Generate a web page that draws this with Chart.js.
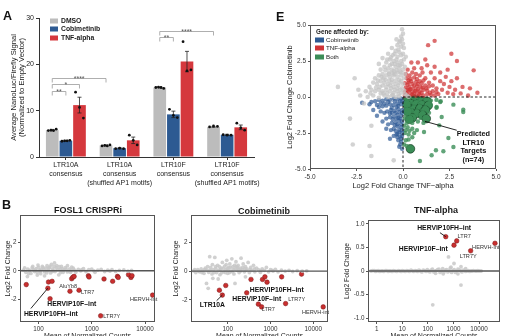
<!DOCTYPE html>
<html>
<head>
<meta charset="utf-8">
<script src="https://cdn.jsdelivr.net/npm/chart.js@4.4.1/dist/chart.umd.min.js"></script>
<style>
  html, body { margin: 0; padding: 0; background: #fff; width: 509px; height: 336px; overflow: hidden; position: relative;
    font-family: "Liberation Sans", Arial, sans-serif; color: #1a1a1a; }
  canvas { position: absolute; }
  .t { position: absolute; white-space: nowrap; line-height: 1; }
  .panel { font-weight: bold; font-size: 12.5px; color: #111; }
  .ttl { font-weight: bold; font-size: 9px; transform: translate(-50%, -50%); }
  .key { position: absolute; width: 8px; height: 5px; transform: translateY(-50%); }
  .kl { transform: translateY(-50%); }
</style>
</head>
<body>
<canvas id="chartA" width="262" height="192" style="left:0;top:0"></canvas>
<canvas id="chartE" width="249" height="196" style="left:260px;top:0"></canvas>
<canvas id="chartB1" width="170" height="148" style="left:0;top:195px"></canvas>
<canvas id="chartB2" width="170" height="148" style="left:170px;top:195px"></canvas>
<canvas id="chartB3" width="169" height="148" style="left:340px;top:195px"></canvas>

<div class="t panel" style="left:3px;top:10.4px">A</div>
<div class="t panel" style="left:276px;top:11px">E</div>
<div class="t panel" style="left:2px;top:198.5px">B</div>

<!-- legende A -->
<div class="key" style="left:50px;top:20.7px;background:#bcbcbc"></div>
<div class="key" style="left:50px;top:29.2px;background:#2d5a92"></div>
<div class="key" style="left:50px;top:37.5px;background:#d5383d"></div>
<div class="t kl" style="left:61px;top:20.7px;font-weight:bold;font-size:6.8px">DMSO</div>
<div class="t kl" style="left:61px;top:29.2px;font-weight:bold;font-size:6.8px">Cobimetinib</div>
<div class="t kl" style="left:61px;top:37.5px;font-weight:bold;font-size:6.8px">TNF-alpha</div>

<!-- legende E -->
<div class="t kl" style="left:316px;top:31.7px;font-weight:bold;font-size:6.3px">Gene affected by:</div>
<div class="key" style="left:315px;top:40.2px;width:9px;background:#2d5a92"></div>
<div class="key" style="left:315px;top:48.4px;width:9px;background:#cf3436"></div>
<div class="key" style="left:315px;top:56.6px;width:9px;background:#3b8d57"></div>
<div class="t kl" style="left:326px;top:40.2px;font-size:6.2px">Cobimetinib</div>
<div class="t kl" style="left:326px;top:48.4px;font-size:6.2px">TNF-alpha</div>
<div class="t kl" style="left:326px;top:56.6px;font-size:6.2px">Both</div>

<!-- titres B -->
<div class="t ttl" style="left:88px;top:210px">FOSL1 CRISPRi</div>
<div class="t ttl" style="left:264px;top:211px">Cobimetinib</div>
<div class="t ttl" style="left:436px;top:210px">TNF-alpha</div>

<script>
const FONT = '"Liberation Sans", Arial, sans-serif';
Chart.defaults.font.family = FONT;
Chart.defaults.color = '#222';

// ---------- Panel A : rapporteur NanoLuc ----------
const constructs = [
  ['LTR10A', 'consensus'],
  ['LTR10A', 'consensus', '(shuffled AP1 motifs)'],
  ['LTR10F', 'consensus'],
  ['LTR10F', 'consensus', '(shuffled AP1 motifs)'],
];
const dmsoMean = [5.8, 2.5, 15.0, 6.5];
const cobiMean = [3.5, 1.9, 9.2, 4.8];
const tnfMean = [11.2, 3.6, 20.6, 6.4];
const dmsoErr = [0.15, 0.1, 0.1, 0.1];
const cobiErr = [0.1, 0.1, 0.7, 0.1];
const tnfErr = [1.7, 0.7, 2.2, 0.5];
const dmsoReps = [[5.7, 5.8, 5.7, 6.0], [2.4, 2.5, 2.4, 2.6], [15.0, 15.1, 15.0, 14.8], [6.5, 6.7, 6.6]];
const cobiReps = [[3.4, 3.5, 3.5, 3.6], [1.8, 1.9, 1.8], [10.3, 9.0, 8.5], [4.8, 4.7, 4.7]];
const tnfReps = [[14.0, 10.7, 8.4], [4.7, 3.6, 2.6], [24.9, 18.6, 18.8], [7.3, 6.3, 5.8]];
const yTicksA = [0, 10, 20, 30];
// [groupe, série]
const sigLinks = [
  { from: [0, 0], to: [0, 1], y: 14.3, text: '**' },
  { from: [0, 0], to: [0, 2], y: 15.8, text: '*' },
  { from: [0, 0], to: [1, 0], y: 17.1, text: '****' },
  { from: [2, 0], to: [2, 1], y: 25.9, text: '**' },
  { from: [2, 0], to: [3, 0], y: 27.3, text: '****' },
];

// ---------- Panel E : log2FC TNF vs Cobimetinib ----------
const eNeither = [
  [-0.05, 4.7], [0.0, 4.4], [-0.1, 4.2], [-0.15, 3.9], [0.0, 3.7], [-0.3, 3.6], [-0.1, 3.5], [0.05, 3.4],
  [-0.4, 3.2], [-0.2, 3.1], [0.0, 3.0], [-0.55, 2.9], [-0.3, 2.8], [-0.1, 2.9], [-0.8, 3.0],
  [-0.7, 2.6], [-0.5, 2.5], [-0.3, 2.4], [-0.1, 2.5], [0.05, 2.6], [-0.9, 2.4], [-1.1, 2.7], [-0.6, 2.3],
  [-1.0, 2.1], [-0.8, 2.0], [-0.6, 1.9], [-0.4, 2.1], [-0.2, 2.0], [0.0, 1.9], [-1.2, 1.9], [-0.5, 1.8], [-0.3, 1.7], [0.1, 2.1],
  [-1.3, 1.5], [-1.1, 1.6], [-0.9, 1.5], [-0.7, 1.4], [-0.5, 1.5], [-0.3, 1.4], [-0.1, 1.5], [0.05, 1.3], [-1.5, 1.3], [-0.6, 1.2], [-0.2, 1.2],
  [-1.6, 1.0], [-1.4, 0.9], [-1.2, 1.1], [-1.0, 1.0], [-0.8, 0.9], [-0.6, 1.0], [-0.4, 0.9], [-0.2, 1.0], [0.0, 0.9], [-0.9, 0.7], [-0.5, 0.7], [-0.3, 0.6], [-1.8, 0.7],
  [-2.0, 0.4], [-1.7, 0.5], [-1.5, 0.4], [-1.3, 0.5], [-1.1, 0.4], [-0.9, 0.5], [-0.7, 0.4], [-0.5, 0.3], [-0.3, 0.4], [-0.1, 0.3], [0.1, 0.2], [0.2, 0.1],
  [-2.3, 0.1], [-1.9, 0.0], [-1.6, 0.1], [-1.3, -0.05], [-1.0, 0.1], [-0.8, 0.0], [-0.6, 0.1], [-0.4, 0.0], [-0.2, 0.05], [0.3, 0.02],
  [-0.15, 2.2], [-0.45, 1.6], [-0.25, 0.8], [-0.65, 0.6], [-0.05, 0.6], [-0.35, 2.6], [-0.75, 1.7], [-1.05, 1.3], [-0.15, 1.75],
  [-0.05, 4.0], [-0.2, 3.8], [-0.25, 3.3], [-0.45, 3.0], [-0.65, 2.75], [-0.85, 2.6], [-0.45, 2.3], [-0.25, 2.2], [-0.05, 2.3],
  [-0.7, 2.2], [-0.95, 1.85], [-0.75, 1.6], [-0.55, 1.65], [-0.35, 1.85], [-0.1, 1.7], [-1.15, 1.4], [-0.95, 1.2], [-0.75, 1.15],
  [-0.4, 1.15], [-0.1, 1.1], [-1.35, 1.15], [-1.1, 0.8], [-0.7, 0.8], [-0.45, 0.5], [-0.15, 0.5], [-1.25, 0.7], [-1.45, 0.65],
  [-1.05, 0.25], [-0.85, 0.25], [-0.55, 0.15], [-0.25, 0.2], [-1.2, 0.25], [-1.75, 0.25], [0.05, 0.45], [0.1, 1.6], [0.15, 2.8],
  [-0.6, 3.4], [-0.35, 4.0], [-1.3, 2.3], [-2.4, 0.5],
  [-3.5, 0.7], [-2.6, 1.3], [-2.85, -1.5], [-1.7, -2.0], [-2.7, -3.3], [-1.8, -3.4], [-1.7, -4.1], [-0.5, -4.4], [-2.1, -0.45],
];
const eCobi = [
  [-0.1, -0.1], [-0.3, -0.15], [-0.5, -0.1], [-0.7, -0.2], [-0.9, -0.15], [-1.1, -0.25], [-1.3, -0.2], [-1.5, -0.3], [-1.7, -0.35],
  [-0.1, -0.5], [-0.3, -0.45], [-0.5, -0.55], [-0.7, -0.5], [-0.9, -0.6], [-1.1, -0.65], [-1.3, -0.7],
  [-0.05, -0.9], [-0.25, -0.85], [-0.45, -0.95], [-0.65, -0.9], [-0.85, -1.0], [-1.0, -1.1],
  [-0.1, -1.3], [-0.3, -1.25], [-0.5, -1.35], [-0.7, -1.4], [-0.9, -1.5],
  [-0.05, -1.7], [-0.2, -1.65], [-0.4, -1.75], [-0.6, -1.8], [-0.8, -1.9],
  [-0.1, -2.1], [-0.3, -2.05], [-0.5, -2.2], [-0.65, -2.3],
  [-0.05, -2.5], [-0.2, -2.45], [-0.35, -2.6], [-0.5, -2.7],
  [-0.1, -2.9], [-0.25, -3.0], [-0.15, -3.3], [-0.05, -3.6],
  [-0.15, -0.3], [-0.35, -0.7], [-0.2, -1.05], [-0.6, -1.1], [-0.15, -1.5], [-0.35, -1.5], [-0.3, -1.9], [-0.2, -2.3],
  [-0.4, -2.35], [-0.15, -2.75], [-0.3, -2.8],
  [-0.05, -0.3], [-0.25, -0.6], [-0.45, -0.3], [-0.6, -0.75], [-0.8, -0.35], [-1.0, -0.45], [-0.4, -1.1], [-0.05, -1.1],
  [-0.55, -1.55], [-0.7, -1.15], [-0.25, -1.45], [-0.45, -1.95], [-0.1, -1.9], [-0.05, -2.3], [-0.3, -2.55], [-0.1, -3.1],
  [-1.2, -0.45], [-1.4, -0.55], [-0.05, -2.7], [-0.2, -3.45],
  [-1.4, -1.3], [-1.1, -1.7], [-0.9, -2.2], [-2.2, -0.4], [-1.8, -0.5], [-1.6, -0.9], [-1.2, -1.0], [-0.7, -2.9],
];
const eTnf = [
  [0.1, 0.1], [0.3, 0.1], [0.5, 0.15], [0.7, 0.1], [0.9, 0.15], [1.1, 0.1], [1.3, 0.2], [1.5, 0.15], [1.7, 0.1], [1.9, 0.2],
  [0.1, 0.35], [0.3, 0.4], [0.5, 0.35], [0.7, 0.45], [0.9, 0.4], [1.1, 0.5], [1.3, 0.45], [1.6, 0.4],
  [0.15, 0.65], [0.35, 0.7], [0.55, 0.6], [0.75, 0.75], [0.95, 0.7], [1.2, 0.8],
  [0.1, 0.95], [0.3, 1.0], [0.5, 0.9], [0.7, 1.05], [0.9, 1.1],
  [0.2, 1.3], [0.4, 1.25], [0.6, 1.35], [0.15, 1.6], [0.5, 1.7],
  [0.2, 0.25], [0.4, 0.55], [0.6, 0.25], [0.8, 0.55], [1.0, 0.3], [0.25, 0.85], [0.45, 1.1], [0.8, 0.9],
  [0.2, 0.5], [0.45, 0.2], [0.65, 0.4], [0.85, 0.25], [1.05, 0.65], [1.25, 0.6], [1.45, 0.3], [0.35, 0.5], [0.6, 0.8],
  [1.0, 0.95], [1.4, 0.75], [0.3, 1.15], [0.75, 1.25], [1.1, 1.15], [0.35, 1.5], [0.7, 1.6], [1.05, 1.7], [1.8, 0.35],
  [2.0, 1.1], [1.7, 1.3], [2.5, 0.7], [2.8, 0.5], [0.25, 1.9], [0.45, 2.4], [1.2, 2.6],
  [0.9, 1.5], [1.2, 1.3], [1.4, 1.0], [1.6, 0.8], [1.8, 0.6], [2.1, 0.5], [2.4, 0.3], [2.7, 0.2], [3.1, 0.25], [3.5, 0.1],
  [1.0, 2.0], [1.3, 2.2], [0.8, 2.4], [1.7, 2.1], [2.0, 1.7], [2.3, 1.4], [2.6, 1.1], [2.9, 1.3], [2.4, 1.9], [2.9, 2.5],
  [3.8, 1.85], [2.6, 3.0], [1.7, 3.9], [1.35, 3.6], [0.6, 2.0], [1.5, 1.7], [3.2, 0.7], [2.2, 0.9], [3.6, 0.6], [4.0, 0.3],
];
const eBoth = [
  [0.1, -0.1], [0.3, -0.15], [0.6, -0.1], [0.9, -0.2], [1.2, -0.15], [1.5, -0.25], [1.8, -0.2], [2.0, -0.35],
  [0.1, -0.5], [0.3, -0.6], [0.6, -0.55], [0.9, -0.6], [1.2, -0.7], [1.5, -0.55], [1.8, -0.75],
  [0.05, -1.0], [0.25, -1.1], [0.5, -1.0], [0.8, -1.2], [1.1, -1.15], [1.4, -1.1],
  [0.1, -1.5], [0.3, -1.6], [0.55, -1.5], [0.8, -1.7], [1.1, -1.8],
  [0.05, -2.0], [0.25, -2.1], [0.5, -2.2], [0.75, -2.3],
  [0.1, -2.5], [0.3, -2.6], [0.5, -2.8], [0.15, -3.0], [0.05, -3.3],
  [0.2, -0.3], [0.45, -0.35], [0.75, -0.35], [1.05, -0.4], [1.35, -0.45], [0.15, -0.75], [0.45, -0.8], [0.75, -0.95],
  [1.05, -0.95], [1.3, -0.85], [0.15, -1.25], [0.4, -1.3], [0.65, -1.3], [0.95, -1.45], [0.2, -1.8], [0.5, -1.8],
  [0.15, -2.3], [0.35, -2.35], [0.3, -2.95], [0.6, -2.5],
  [2.03, -0.3], [2.71, -0.53], [3.24, -1.04], [3.24, -0.88], [1.42, -0.39], [1.81, -0.69], [2.08, -1.39], [1.95, -1.97],
  [1.13, -2.43], [2.44, -2.85], [2.71, -3.47], [1.77, -3.7], [0.91, -4.44], [1.54, -4.05], [2.17, -3.77], [0.2, -3.4],
];
const eTargets = [
  [0.3, -0.2], [0.55, -0.15], [0.8, -0.2], [1.05, -0.25], [1.3, -0.3], [0.4, -0.45], [0.7, -0.5], [1.0, -0.55],
  [1.35, -0.6], [0.35, -0.75], [0.6, -0.85], [0.9, -0.8], [1.2, -0.9], [0.45, -1.1], [0.75, -1.15], [1.05, -1.25],
  [0.5, -1.45], [1.25, -1.5], [0.35, -1.55], [0.4, -3.6], [0.2, -0.5], [0.25, -1.0],
];
const eTicks = [-5, -2.5, 0, 2.5, 5];
const eNotes = [
  { text: 'Predicted', x: 3.78, y: -2.57, kind: 'call' },
  { text: 'LTR10', x: 3.78, y: -3.17, kind: 'call' },
  { text: 'Targets', x: 3.78, y: -3.75, kind: 'call' },
  { text: '(n=74)', x: 3.78, y: -4.37, kind: 'call' },
];
const eLeader = [{ x1: 1.18, y1: -1.69, x2: 2.89, y2: -2.31 }];

// ---------- Panel B : MA plots des familles de TE ----------
const fosl1Other = [
  [52, 0.05], [58, -0.1], [63, 0.12], [68, 0.02], [72, -0.18], [76, 0.2], [80, 0.08], [85, -0.05], [90, 0.15], [95, -0.12],
  [100, 0.25], [105, 0.05], [110, -0.2], [118, 0.3], [125, 0.1], [130, -0.08], [138, 0.18], [145, 0.35], [150, 0.0], [160, 0.22],
  [168, -0.15], [175, 0.45], [185, 0.12], [195, 0.3], [205, -0.05], [215, 0.2], [230, 0.08], [245, 0.28], [260, -0.12], [280, 0.15],
  [300, 0.05], [320, 0.22], [350, -0.08], [380, 0.12], [410, 0.02], [450, 0.18], [500, -0.1], [560, 0.1], [620, 0.0], [700, 0.15],
  [780, -0.05], [880, 0.08], [1000, 0.12], [1150, -0.1], [1300, 0.05], [1500, 0.1], [1750, -0.05], [2000, 0.04], [2400, 0.08],
  [2800, -0.04], [3300, 0.03], [4000, 0.06], [4800, -0.03], [5600, 0.02], [62, -0.4], [95, -0.3], [130, -0.35], [200, 0.55],
  [240, -0.28], [350, 0.35], [112, 0.1], [155, 0.15], [180, -0.05], [270, 0.3], [420, 0.25],
  [55, 0.2], [65, -0.2], [78, 0.3], [88, 0.05], [98, 0.4], [108, -0.05], [122, 0.22], [142, -0.15], [165, 0.3], [190, 0.0],
  [220, 0.35], [255, 0.1], [290, -0.1], [330, 0.1], [400, -0.1], [470, 0.05], [650, 0.08], [1100, 0.0], [2200, -0.02],
];
const fosl1Hits = [
  [59, -0.96], [154, -0.78], [180, -0.73], [150, -1.21], [165, -1.94], [420, -0.55], [440, -0.45], [467, -0.39],
  [390, -1.42], [577, -1.35], [866, -0.34], [890, -0.43], [1700, -0.57], [2470, -0.73], [3040, -0.39], [3140, -0.46],
  [4900, -0.27], [5450, -0.46], [5700, -0.34], [1470, -3.13], [13900, -1.69],
];
const fosl1Notes = [
  { text: 'AluYb8', x: 361, y: -1.1, kind: 'minor' },
  { text: 'LTR7', x: 838, y: -1.5, kind: 'minor' },
  { text: 'HERVIP10F\u2013int', x: 423, y: -2.33, kind: 'hit' },
  { text: 'HERVIP10FH\u2013int', x: 171, y: -3.01, kind: 'hit' },
  { text: 'LTR7Y', x: 2380, y: -3.17, kind: 'minor' },
  { text: 'HERVH-int', x: 9400, y: -1.99, kind: 'minor' },
];
const fosl1Leader = [{ x1: 150, y1: -1.21, x2: 72, y2: -2.62 }];

const cobiOther = [
  [16, 0.02], [18, -0.1], [20, 0.1], [22, -0.05], [24, 0.15], [26, 0.0], [28, -0.15], [30, 0.2], [33, 0.05], [36, -0.08],
  [38, 1.0], [40, 0.25], [43, -0.2], [46, 0.1], [50, 0.95], [52, 0.3], [55, -0.1], [58, 0.4], [62, 0.05], [66, -0.25],
  [70, 0.2], [75, 0.6], [80, -0.05], [85, 0.35], [90, 0.1], [95, 0.75], [100, -0.15], [106, 0.25], [112, 0.5], [118, 0.0],
  [125, 0.85], [132, 0.3], [140, -0.2], [148, 0.15], [156, 0.65], [165, 0.05], [175, 0.4], [185, -0.1], [195, 0.2], [205, 0.9],
  [215, 0.1], [230, 0.5], [245, -0.05], [260, 0.3], [280, 0.15], [300, 0.6], [320, -0.1], [345, 0.25], [370, 0.05], [400, 0.4],
  [430, -0.05], [470, 0.2], [520, 0.1], [580, -0.08], [640, 0.15], [720, 0.05], [800, 0.25], [900, -0.05], [1000, 0.1],
  [1150, 0.0], [1300, 0.12], [1500, -0.05], [1800, 0.06], [2200, 0.0], [2700, 0.05], [3300, -0.03], [4200, 0.03], [5500, 0.0],
  [7000, 0.02], [35, -1.2], [32, -0.86], [148, -0.86], [60, -0.55], [45, -0.5], [260, -0.4], [68, 0.1], [88, -0.1], [135, 0.1],
  [170, 0.25], [110, -0.1], [250, 0.15],
  [17, 0.1], [21, 0.0], [25, -0.1], [29, 0.1], [34, 0.3], [39, 0.05], [44, 0.45], [48, -0.1], [53, 0.15], [64, 0.3],
  [72, -0.12], [78, 0.2], [92, 0.45], [98, 0.2], [103, 0.05], [115, 0.25], [128, -0.05], [145, 0.4], [160, 0.3], [180, 0.1],
  [200, 0.0], [225, 0.25], [270, 0.05], [330, 0.1], [420, 0.15], [600, 0.05], [1100, 0.05],
];
const cobiHits = [
  [64, -1.33], [75, -1.67], [90, -1.0], [278, -1.51], [350, -0.58], [520, -2.3], [620, -2.49], [650, -0.58],
  [740, -0.4], [830, -0.77], [1820, -0.4], [2250, -2.26], [5300, -0.21], [17000, -2.49],
];
const cobiNotes = [
  { text: 'HERVIP10FH\u2013int', x: 1400, y: -1.32, kind: 'hit' },
  { text: 'HERVIP10F\u2013int', x: 476, y: -1.97, kind: 'hit' },
  { text: 'LTR7Y', x: 4090, y: -1.97, kind: 'minor' },
  { text: 'LTR10A', x: 44, y: -2.36, kind: 'hit' },
  { text: 'LTR7', x: 890, y: -2.66, kind: 'minor' },
  { text: 'HERVH-int', x: 11250, y: -2.87, kind: 'minor' },
];
const cobiLeader = [{ x1: 75, y1: -1.67, x2: 55, y2: -2.06 }];

const tnfOther = [
  [0.6, 0.0], [0.8, 0.01], [1.0, 0.0], [1.3, -0.01], [1.7, 0.0], [2.2, 0.01], [2.8, -0.01], [3.5, 0.0], [4.5, 0.01], [6, -0.01],
  [8, 0.0], [10, 0.01], [13, -0.01], [17, 0.0], [22, 0.02], [28, -0.01], [36, 0.0], [45, 0.02], [58, -0.02], [75, 0.01],
  [95, 0.03], [120, -0.02], [150, 0.04], [190, 0.0], [240, 0.03], [300, -0.03], [380, 0.05], [480, 0.02], [600, -0.02],
  [750, 0.06], [950, 0.01], [1200, -0.03], [1500, 0.04], [1900, 0.0], [2400, 0.02], [3000, -0.01], [3800, 0.01], [4800, 0.0],
  [6000, 0.01], [8000, 0.0], [10000, 0.0], [200, -0.05], [400, -0.06], [800, 0.08], [1500, -0.06], [3000, 0.05],
  [0.7, 0.01], [0.9, -0.01], [1.15, 0.01], [1.5, 0.0], [1.9, -0.01], [2.5, 0.01], [3.1, 0.0], [4, -0.01], [5.2, 0.0],
  [7, 0.01], [9, -0.01], [11.5, 0.0], [15, 0.01], [19, -0.01], [25, 0.0], [32, 0.01], [40, -0.01], [50, 0.0], [66, 0.02],
  [85, -0.01], [105, 0.0], [135, 0.02], [170, -0.02], [215, 0.01], [270, 0.04], [340, 0.0], [430, -0.02], [540, 0.03],
  [680, 0.0], [850, -0.03], [1070, 0.03], [1350, 0.0], [1700, 0.02], [2150, -0.02], [2700, 0.01], [3400, 0.0], [4300, -0.01],
  [5400, 0.0], [7000, 0.0], [9000, 0.01], [12000, 0.0],
  [640, 0.3], [1050, 0.16], [1970, 0.09], [1970, -0.3], [155, -0.72],
];
const tnfHits = [[500, 0.73], [1340, 0.64], [1050, 0.55], [4700, 0.43], [42000, 0.59]];
const tnfNotes = [
  { text: 'HERVIP10FH\u2013int', x: 433, y: 0.91, kind: 'hit' },
  { text: 'LTR7', x: 2620, y: 0.73, kind: 'minor' },
  { text: 'HERVIP10F\u2013int', x: 66, y: 0.47, kind: 'hit' },
  { text: 'HERVH-int', x: 18300, y: 0.5, kind: 'minor' },
  { text: 'LTR7Y', x: 3780, y: 0.3, kind: 'minor' },
];
const tnfLeader = [{ x1: 297, y1: 0.815, x2: 500, y2: 0.73 }];

const countTicksB = [100, 1000, 10000];
const countTicksTnf = [1, 10, 100, 1000, 10000];
const lfcTicksB = [-2, 0, 2];
const lfcTicksTnf = [-1, -0.5, 0, 0.5, 1];

// ---------- outils ----------
const NOTE_STYLE = {
  hit: { font: `bold 6.8px ${FONT}`, color: '#111' },
  minor: { font: `5.6px ${FONT}`, color: '#333' },
  call: { font: `bold 7.3px ${FONT}`, color: '#111' },
};
const pts = arr => arr.map(([x, y]) => ({ x, y }));

// zone de tracé fixée au pixel près
function frame(W, H, a) {
  return {
    padding: { left: 0, top: a.top, right: W - a.right, bottom: 0 },
    fitX: s => { s.height = H - a.bottom; s.paddingLeft = 0; s.paddingRight = 0; },
    fitY: s => { s.width = a.left; s.paddingTop = 0; s.paddingBottom = 0; },
  };
}

function overlay(o) {
  return {
    id: 'overlay',
    afterDatasetsDraw(chart) {
      const { ctx, chartArea: a, scales: { x, y } } = chart;
      ctx.save();
      if (o.zeroLine) {
        ctx.strokeStyle = '#555'; ctx.lineWidth = 1.4;
        const py = y.getPixelForValue(0);
        ctx.beginPath(); ctx.moveTo(a.left, py); ctx.lineTo(a.right, py); ctx.stroke();
      }
      if (o.dashed) {
        ctx.strokeStyle = '#111'; ctx.lineWidth = 0.9; ctx.setLineDash([2.5, 2]);
        o.dashed.forEach(l => {
          ctx.beginPath();
          ctx.moveTo(x.getPixelForValue(l.x1), y.getPixelForValue(l.y1));
          ctx.lineTo(x.getPixelForValue(l.x2), y.getPixelForValue(l.y2));
          ctx.stroke();
        });
        ctx.setLineDash([]);
      }
      (o.lines || []).forEach(l => {
        ctx.strokeStyle = '#111'; ctx.lineWidth = 0.9;
        ctx.beginPath();
        ctx.moveTo(x.getPixelForValue(l.x1), y.getPixelForValue(l.y1));
        ctx.lineTo(x.getPixelForValue(l.x2), y.getPixelForValue(l.y2));
        ctx.stroke();
      });
      (o.notes || []).forEach(n => {
        const st = NOTE_STYLE[n.kind];
        ctx.font = st.font; ctx.fillStyle = st.color;
        ctx.textAlign = 'center'; ctx.textBaseline = 'middle';
        ctx.fillText(n.text, x.getPixelForValue(n.x), y.getPixelForValue(n.y));
      });
      ctx.strokeStyle = '#555'; ctx.lineWidth = 1;
      ctx.strokeRect(a.left + 0.5, a.top + 0.5, a.width - 1, a.height - 1);
      ctx.restore();
    },
  };
}

const tickGrid = { display: true, drawOnChartArea: false, tickLength: 2, color: '#555' };
const base = { responsive: false, animation: false, devicePixelRatio: 1, events: [],
  plugins: { legend: { display: false }, tooltip: { enabled: false } } };

// ---------- chart A ----------
const barExtras = {
  id: 'barExtras',
  afterDatasetsDraw(chart) {
    const { ctx } = chart;
    const y = chart.scales.y;
    const reps = [dmsoReps, cobiReps, tnfReps];
    const errs = [dmsoErr, cobiErr, tnfErr];
    ctx.save();
    chart.data.datasets.forEach((ds, i) => {
      chart.getDatasetMeta(i).data.forEach((bar, j) => {
        const top = y.getPixelForValue(ds.data[j] + errs[i][j]);
        const bot = y.getPixelForValue(ds.data[j] - errs[i][j]);
        ctx.strokeStyle = '#222'; ctx.lineWidth = 0.8;
        ctx.beginPath();
        ctx.moveTo(bar.x, top); ctx.lineTo(bar.x, bot);
        ctx.moveTo(bar.x - 2, top); ctx.lineTo(bar.x + 2, top);
        ctx.moveTo(bar.x - 2, bot); ctx.lineTo(bar.x + 2, bot);
        ctx.stroke();
        const r = reps[i][j];
        ctx.fillStyle = '#111';
        r.forEach((v, k) => {
          const dx = (k / (r.length - 1) - 0.5) * bar.width * 0.62;
          ctx.beginPath(); ctx.arc(bar.x + dx, y.getPixelForValue(v), 1.4, 0, Math.PI * 2); ctx.fill();
        });
      });
    });
    sigLinks.forEach(l => {
      const x1 = chart.getDatasetMeta(l.from[1]).data[l.from[0]].x;
      const x2 = chart.getDatasetMeta(l.to[1]).data[l.to[0]].x;
      const py = Math.round(y.getPixelForValue(l.y)) + 0.5;
      ctx.strokeStyle = '#9a9a9a'; ctx.lineWidth = 0.8;
      ctx.beginPath();
      ctx.moveTo(x1, py + 4); ctx.lineTo(x1, py); ctx.lineTo(x2, py); ctx.lineTo(x2, py + 4);
      ctx.stroke();
      ctx.fillStyle = '#555'; ctx.font = `7px ${FONT}`;
      ctx.textAlign = 'center'; ctx.textBaseline = 'alphabetic';
      ctx.fillText(l.text, (x1 + x2) / 2, py + 2.5);
    });
    ctx.restore();
  },
};

const fa = frame(262, 192, { left: 39, top: 18, right: 254, bottom: 157 });
new Chart(document.getElementById('chartA'), {
  type: 'bar',
  data: {
    labels: constructs,
    datasets: [
      { label: 'DMSO', data: dmsoMean, backgroundColor: '#bcbcbc' },
      { label: 'Cobimetinib', data: cobiMean, backgroundColor: '#2d5a92' },
      { label: 'TNF-alpha', data: tnfMean, backgroundColor: '#d5383d' },
    ],
  },
  options: {
    ...base,
    layout: { padding: fa.padding },
    datasets: { bar: { categoryPercentage: 0.76, barPercentage: 0.93 } },
    scales: {
      x: {
        grid: { ...tickGrid, offset: false, tickLength: 3, color: '#333' },
        border: { color: '#333' },
        ticks: { font: { size: 7, lineHeight: 1.25 }, padding: 1, maxRotation: 0, minRotation: 0, autoSkip: false },
        afterFit: fa.fitX,
      },
      y: {
        min: 0, max: 30,
        afterBuildTicks: s => { s.ticks = yTicksA.map(value => ({ value })); },
        grid: { ...tickGrid, tickLength: 3, color: '#333' },
        border: { color: '#333' },
        ticks: { font: { size: 7 }, padding: 2 },
        title: { display: true, text: ['Average NanoLuc/Firefly Signal', '(Normalized to Empty Vector)'],
          font: { size: 7.6, lineHeight: 1.08 }, padding: { top: 9.4, bottom: 0 } },
        afterFit: fa.fitY,
      },
    },
  },
  plugins: [barExtras],
});

// ---------- chart E ----------
const fe = frame(249, 196, { left: 50, top: 25, right: 236, bottom: 169 });
new Chart(document.getElementById('chartE'), {
  type: 'scatter',
  data: {
    datasets: [
      { data: pts(eNeither), pointRadius: 2.3, backgroundColor: 'rgba(196,196,196,0.75)', borderWidth: 0 },
      { data: pts(eCobi), pointRadius: 2.2, backgroundColor: 'rgba(45,90,150,0.7)', borderWidth: 0 },
      { data: pts(eTnf), pointRadius: 2.2, backgroundColor: 'rgba(207,52,54,0.72)', borderWidth: 0 },
      { data: pts(eBoth), pointRadius: 2.2, backgroundColor: 'rgba(59,141,87,0.8)', borderWidth: 0 },
      { data: pts(eTargets), pointRadius: 4.3, backgroundColor: '#3b8d57', borderColor: '#123a20', borderWidth: 0.7 },
    ],
  },
  options: {
    ...base,
    layout: { padding: fe.padding },
    scales: {
      x: {
        type: 'linear', min: -5, max: 5,
        afterBuildTicks: s => { s.ticks = eTicks.map(value => ({ value })); },
        grid: tickGrid, border: { display: false },
        ticks: { font: { size: 6.5 }, color: '#333', padding: 2, callback: v => v.toFixed(1) },
        title: { display: true, text: 'Log2 Fold Change TNF\u2212alpha', font: { size: 7.5 }, padding: { top: 0, bottom: 6 } },
        afterFit: fe.fitX,
      },
      y: {
        type: 'linear', min: -5, max: 5,
        afterBuildTicks: s => { s.ticks = eTicks.map(value => ({ value })); },
        grid: tickGrid, border: { display: false },
        ticks: { font: { size: 6.5 }, color: '#333', padding: 2, callback: v => v.toFixed(1) },
        title: { display: true, text: 'Log2 Fold Change Cobimetinib', font: { size: 7.5 }, padding: { top: 25, bottom: 0 } },
        afterFit: fe.fitY,
      },
    },
  },
  plugins: [overlay({
    dashed: [{ x1: 0, y1: 0, x2: 5, y2: 0 }, { x1: 0, y1: 0, x2: 0, y2: -5 }],
    lines: eLeader, notes: eNotes,
  })],
});

// ---------- charts B ----------
function maPlot(id, W, area, xr, yr, xTicks, yTicks, yFmt, other, hits, notes, leader, yTitlePad) {
  const f = frame(W, 148, area);
  new Chart(document.getElementById(id), {
    type: 'scatter',
    data: {
      datasets: [
        { data: pts(other), pointRadius: 1.9, backgroundColor: 'rgba(200,200,200,0.85)', borderWidth: 0 },
        { data: pts(hits), pointRadius: 2.3, backgroundColor: '#c92f2f', borderColor: '#7d1a1a', borderWidth: 0.5 },
      ],
    },
    options: {
      ...base,
      layout: { padding: f.padding },
      scales: {
        x: {
          type: 'logarithmic', min: xr[0], max: xr[1],
          afterBuildTicks: s => { s.ticks = xTicks.map(value => ({ value })); },
          grid: tickGrid, border: { display: false },
          ticks: { font: { size: 6.3 }, color: '#333', padding: 1, autoSkip: false, maxRotation: 0, callback: v => String(v) },
          title: { display: true, text: 'Mean of Normalized Counts', font: { size: 7 }, padding: { top: 0, bottom: 2.3 } },
          afterFit: f.fitX,
        },
        y: {
          type: 'linear', min: yr[0], max: yr[1],
          afterBuildTicks: s => { s.ticks = yTicks.map(value => ({ value })); },
          grid: tickGrid, border: { display: false },
          ticks: { font: { size: 6.3 }, color: '#333', padding: 1.5, callback: yFmt },
          title: { display: true, text: 'Log2 Fold Change', font: { size: 6.8 }, padding: { top: yTitlePad, bottom: 0 } },
          afterFit: f.fitY,
        },
      },
    },
    plugins: [overlay({ zeroLine: true, lines: leader, notes })],
  });
}

const intFmt = v => String(v);
const decFmt = v => (v === 0 ? '0' : v.toFixed(1));
maPlot('chartB1', 170, { left: 20, top: 20, right: 155, bottom: 127 }, [45, 15400], [-3.56, 3.88],
  countTicksB, lfcTicksB, intFmt, fosl1Other, fosl1Hits, fosl1Notes, fosl1Leader, 4.4);
maPlot('chartB2', 170, { left: 21, top: 20, right: 158, bottom: 127 }, [13.9, 22000], [-3.54, 3.9],
  countTicksB, lfcTicksB, intFmt, cobiOther, cobiHits, cobiNotes, cobiLeader, 2);
maPlot('chartB3', 169, { left: 28, top: 25, right: 160, bottom: 127 }, [0.457, 66000], [-1.085, 1.085],
  countTicksTnf, lfcTicksTnf, decFmt, tnfOther, tnfHits, tnfNotes, tnfLeader, 3);
</script>
</body>
</html>
